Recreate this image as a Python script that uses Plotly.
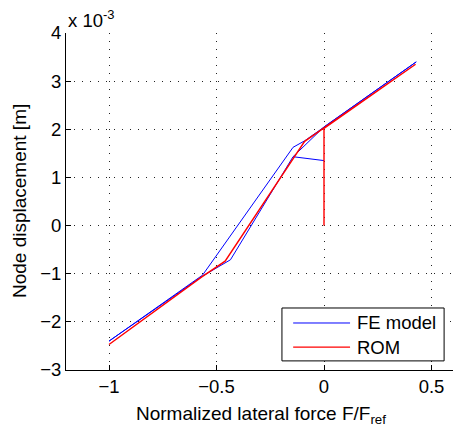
import plotly.graph_objects as go

# Normalized lateral force F/F_ref and node displacement (x 10^-3 m)
fe_force = [0.0, -0.144, 0.0, 0.429, 0.0, -0.09, -0.144, -0.565, -1.0, -0.565, -0.435, -0.144]
fe_disp = [1.35, 1.43, 2.05, 3.40, 2.06, 1.76, 1.625, -1.03, -2.40, -1.05, -0.71, 1.43]

rom_force = [0.0, 0.0, 0.426, 0.0, -0.09, -0.46, -0.57, -1.0]
rom_disp = [0.0, 2.02, 3.35, 2.02, 1.75, -0.74, -1.07, -2.47]

x_ticks = [-1, -0.5, 0, 0.5]
y_ticks = [-3, -2, -1, 0, 1, 2, 3, 4]
series_names = ["FE model", "ROM"]
series_colors = ["#0000ff", "#ff0000"]

FONT = "Liberation Sans, Arial, Helvetica, sans-serif"

fig = go.Figure()
fig.add_trace(go.Scatter(x=fe_force, y=fe_disp, mode="lines", name=series_names[0],
                         line=dict(color=series_colors[0], width=1)))
fig.add_trace(go.Scatter(x=rom_force, y=rom_disp, mode="lines", name=series_names[1],
                         line=dict(color=series_colors[1], width=1.4)))

axis_common = dict(
    showline=True, linecolor="black", linewidth=1, mirror=False,
    ticks="inside", ticklen=5, tickcolor="black", tickwidth=1,
    showgrid=True, gridcolor="#222", gridwidth=1, griddash="1px,7px",
    zeroline=False, tickfont=dict(size=18.5, color="black", family=FONT),
)

fig.update_xaxes(range=[-1.2, 0.6], tickvals=x_ticks,
                 ticktext=["\u22121", "\u22120.5", "0", "0.5"], **axis_common)
fig.update_yaxes(range=[-3, 4], tickvals=y_ticks,
                 ticktext=["\u22123", "\u22122", "\u22121", "0", "1", "2", "3", "4"], **axis_common)

# manual legend (box, line samples, labels) in paper coordinates
shapes = [
    dict(type="rect", xref="paper", yref="paper", x0=0.558, x1=0.977, y0=0.027, y1=0.184,
         line=dict(color="black", width=1), fillcolor="white", layer="above"),
    dict(type="line", xref="paper", yref="paper", x0=0.587, x1=0.734, y0=0.1395, y1=0.1395,
         line=dict(color=series_colors[0], width=1), layer="above"),
    dict(type="line", xref="paper", yref="paper", x0=0.587, x1=0.734, y0=0.068, y1=0.068,
         line=dict(color=series_colors[1], width=1.4), layer="above"),
]

annotations = [
    dict(text=series_names[0], xref="paper", yref="paper", x=0.747, y=0.1395,
         xanchor="left", yanchor="middle", showarrow=False,
         font=dict(size=18.5, family=FONT, color="black")),
    dict(text=series_names[1], xref="paper", yref="paper", x=0.747, y=0.068,
         xanchor="left", yanchor="middle", showarrow=False,
         font=dict(size=18.5, family=FONT, color="black")),
    dict(text="Normalized lateral force F/F<sub>ref</sub>", xref="paper", yref="paper",
         x=0.503, y=-0.093, xanchor="center", yanchor="top", showarrow=False,
         font=dict(size=19, family=FONT, color="black")),
    dict(text="Node displacement [m]", xref="paper", yref="paper",
         x=-0.12, y=0.5, xanchor="center", yanchor="middle", textangle=-90,
         showarrow=False, font=dict(size=19, family=FONT, color="black")),
    dict(text="x 10<sup>-3</sup>", xref="paper", yref="paper",
         x=0.0, y=1.0, xanchor="left", yanchor="bottom", showarrow=False,
         font=dict(size=18.5, family=FONT, color="black")),
]

fig.update_layout(
    width=454, height=432,
    margin=dict(l=66, r=1, t=33, b=62),
    plot_bgcolor="white", paper_bgcolor="white",
    font=dict(family=FONT, size=18, color="black"),
    showlegend=False,
    shapes=shapes,
    annotations=annotations,
)

fig.write_html("out.html", config={"displayModeBar": False},
               post_script="document.body.style.margin='0';")
